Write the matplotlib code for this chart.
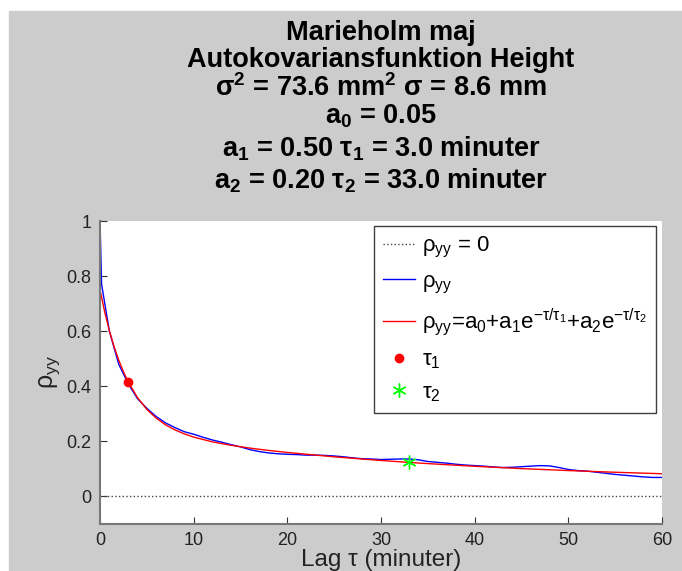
import matplotlib
matplotlib.use("Agg")
from matplotlib import pyplot as plt
from matplotlib.patches import Rectangle

plt.rcParams['font.family'] = ['Liberation Sans', 'DejaVu Sans']
plt.rcParams['mathtext.default'] = 'regular'

lag_emp = [0, 0.17, 1, 2, 3, 4, 5, 6, 7, 8, 9, 10, 11, 12, 13, 14, 15, 16, 17, 18, 19,
           20, 21, 22, 23, 24, 25, 26, 27, 28, 29, 30, 31, 32, 33, 34, 35, 36, 37, 38, 39,
           40, 41, 42, 43, 44, 45, 46, 47, 48, 49, 50, 51, 52, 53, 54, 55, 56, 57, 58, 59, 60]
rho_emp = [1.00, 0.77, 0.60, 0.48, 0.41, 0.355, 0.32, 0.29, 0.267, 0.25, 0.235, 0.226,
           0.215, 0.205, 0.197, 0.188, 0.180, 0.170, 0.163, 0.158, 0.155,
           0.153, 0.152, 0.150, 0.150, 0.149, 0.147, 0.144, 0.140, 0.137, 0.136,
           0.134, 0.135, 0.136, 0.136, 0.133, 0.127, 0.124, 0.121, 0.117, 0.114,
           0.112, 0.110, 0.107, 0.105, 0.106, 0.108, 0.110, 0.112, 0.111, 0.105,
           0.098, 0.094, 0.092, 0.088, 0.084, 0.080, 0.077, 0.074, 0.071, 0.069, 0.069]

# fitted model curve
lag_fit = [0, 0.5, 1, 1.5, 2, 2.5, 3, 4, 5, 6, 7, 8, 9, 10, 12, 14, 16, 18, 20,
           25, 30, 33, 35, 40, 45, 50, 55, 60]
rho_fit = [0.750, 0.670, 0.602, 0.544, 0.495, 0.453, 0.4165, 0.359, 0.316, 0.2845,
           0.260, 0.2417, 0.2272, 0.2155, 0.1982, 0.1856, 0.1756, 0.1671, 0.1597,
           0.1439, 0.1306, 0.1236, 0.1193, 0.1095, 0.1011, 0.0940, 0.0878, 0.0825]

tau_pts = [3.0, 33.0]
rho_tau = [0.4165, 0.1236]

title_lines = [
    'Marieholm maj',
    'Autokovariansfunktion Height',
    'σ$^2$ = 73.6 mm$^2$ σ = 8.6 mm',
    'a$_0$ = 0.05',
    'a$_1$ = 0.50 τ$_1$ = 3.0 minuter',
    'a$_2$ = 0.20 τ$_2$ = 33.0 minuter',
]
title_y = [33, 60, 88, 116, 149, 181]

fig = plt.figure(figsize=(6.82, 5.71), dpi=100, facecolor='white')
fig.add_artist(Rectangle((9 / 682, 0), 1, 1 - 11 / 571, transform=fig.transFigure,
                         color='#cccccc', zorder=-10))

ax = fig.add_axes([100 / 682, 1 - 524 / 571, 562 / 682, 303 / 571])
ax.axhline(0, color='#444444', ls=':', lw=1, label='ρ$_{yy}$ = 0')
ax.plot(lag_emp, rho_emp, color='blue', lw=1, label='ρ$_{yy}$')
ax.plot(lag_fit, rho_fit, color='red', lw=1,
        label='ρ$_{yy}$=a$_0$+a$_1$e$^{-τ/τ_1}$+a$_2$e$^{-τ/τ_2}$')
ax.plot(tau_pts[0], rho_tau[0], 'o', color='red', ms=6, label='τ$_1$')
ax.plot(tau_pts[1], rho_tau[1], ls='none', marker=(6, 2, 0), color='#00ff00',
        ms=10, mew=1, label='τ$_2$')

ax.set_xlim(0, 60)
ax.set_ylim(-0.1, 1)
ax.set_xticks([0, 10, 20, 30, 40, 50, 60])
ax.set_yticks([0, 0.2, 0.4, 0.6, 0.8, 1])
ax.set_yticklabels(['0', '0.2', '0.4', '0.6', '0.8', '1'])
ax.tick_params(direction='in', length=5, labelsize=13, colors='#333333',
               labelcolor='#222222', pad=6)
for side in ['top', 'right']:
    ax.spines[side].set_visible(False)
for side in ['left', 'bottom']:
    ax.spines[side].set_color('#777777')
    ax.spines[side].set_linewidth(1.5)

ax.set_xlabel('Lag τ (minuter)', fontsize=17.5, labelpad=0, color='#222222')
ax.set_ylabel('ρ$_{yy}$', fontsize=18, labelpad=3, color='#222222')

leg = ax.legend(loc='upper right', bbox_to_anchor=(0.989, 0.983), fontsize=16,
                fancybox=False, framealpha=1, edgecolor='#404040',
                handlelength=1.45, labelspacing=0.5, borderpad=0.4,
                handletextpad=0.3, borderaxespad=0)
leg.get_frame().set_linewidth(1)

for txt, yp in zip(title_lines, title_y):
    fig.text(381 / 682, 1 - yp / 571, txt, ha='center', va='center',
             fontsize=19.5, fontweight='bold')

fig.savefig('out.png', dpi=100)
